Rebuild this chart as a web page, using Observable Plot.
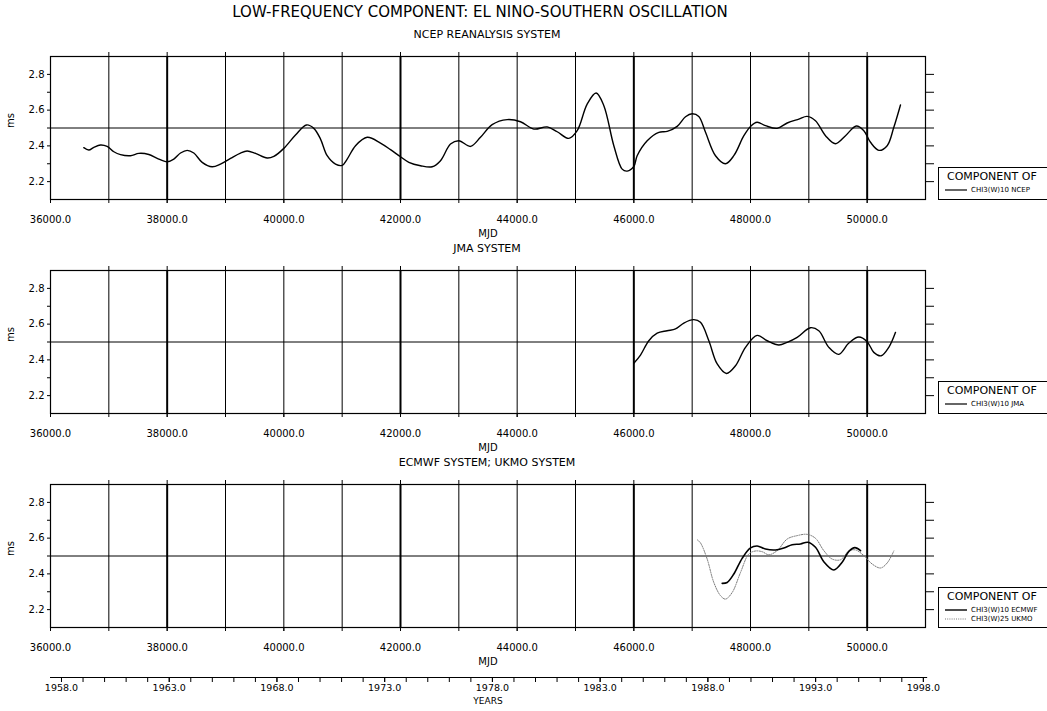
<!DOCTYPE html>
<html>
<head>
<meta charset="utf-8">
<script src="https://cdn.jsdelivr.net/npm/d3@7"></script>
<script src="https://cdn.jsdelivr.net/npm/@observablehq/plot@0.6"></script>
<style>
  html, body { margin: 0; padding: 0; background: #fff; }
  body { position: relative; width: 1047px; height: 711px; overflow: hidden; font-family: "DejaVu Sans", sans-serif; color: #000; }
  .ctext { position: absolute; transform: translate(-50%, -50%); white-space: nowrap; }
  .title { font-size: 15px; }
  .sub { font-size: 11px; }
  .legend { position: absolute; border: 1px solid #000; background: #fff; box-sizing: border-box; }
  .legend .head { position: absolute; left: 8px; top: 2px; font-size: 11px; white-space: nowrap; }
  .legend .row { position: absolute; left: 6px; font-size: 7px; white-space: nowrap; display: flex; align-items: center; }
  .legend .row svg { margin-right: 4px; }
</style>
</head>
<body>
<script>
// ---- data: low-frequency (ENSO band) component, ms ----
const ncepMjd = [36571, 36657, 36743, 36857, 36971, 37086, 37200, 37371, 37514, 37686, 37829, 38000, 38114, 38229, 38343, 38457, 38600, 38771, 38914, 39086, 39257, 39371, 39514, 39714, 39829, 40000, 40200, 40389, 40514, 40629, 40743, 40886, 41000, 41086, 41229, 41429, 41657, 41829, 42000, 42143, 42343, 42543, 42686, 42857, 43000, 43200, 43371, 43571, 43829, 44057, 44286, 44514, 44686, 44886, 45029, 45200, 45354, 45486, 45657, 45800, 45886, 46000, 46057, 46229, 46429, 46571, 46743, 46886, 47000, 47114, 47229, 47400, 47571, 47714, 47886, 48000, 48114, 48257, 48457, 48629, 48829, 48971, 49114, 49286, 49457, 49629, 49814, 49943, 50057, 50200, 50343, 50457, 50571];
const ncepVal = [2.390, 2.377, 2.392, 2.405, 2.397, 2.367, 2.351, 2.345, 2.358, 2.352, 2.330, 2.311, 2.326, 2.360, 2.375, 2.360, 2.308, 2.283, 2.298, 2.330, 2.360, 2.371, 2.358, 2.332, 2.341, 2.386, 2.461, 2.517, 2.498, 2.438, 2.345, 2.298, 2.291, 2.326, 2.401, 2.448, 2.416, 2.379, 2.339, 2.308, 2.289, 2.283, 2.317, 2.410, 2.429, 2.397, 2.448, 2.519, 2.547, 2.535, 2.494, 2.506, 2.479, 2.442, 2.485, 2.634, 2.696, 2.625, 2.401, 2.270, 2.259, 2.285, 2.345, 2.429, 2.476, 2.481, 2.509, 2.563, 2.580, 2.565, 2.476, 2.345, 2.300, 2.345, 2.457, 2.509, 2.532, 2.513, 2.498, 2.528, 2.550, 2.565, 2.541, 2.457, 2.412, 2.457, 2.511, 2.485, 2.420, 2.375, 2.401, 2.504, 2.629];

const jmaMjd = [46000, 46114, 46257, 46400, 46571, 46714, 46857, 47029, 47143, 47286, 47429, 47588, 47743, 47914, 48114, 48286, 48486, 48629, 48800, 49029, 49171, 49343, 49514, 49686, 49857, 50000, 50114, 50240, 50371, 50486];
const jmaVal = [2.381, 2.427, 2.507, 2.549, 2.563, 2.573, 2.606, 2.625, 2.610, 2.507, 2.377, 2.324, 2.367, 2.470, 2.537, 2.507, 2.483, 2.498, 2.526, 2.580, 2.563, 2.470, 2.431, 2.494, 2.528, 2.502, 2.442, 2.423, 2.470, 2.554];

const ecmwfMjd = [47514, 47600, 47714, 47857, 48000, 48114, 48257, 48429, 48571, 48714, 48857, 48983, 49114, 49257, 49429, 49571, 49686, 49789, 49886];
const ecmwfVal = [2.347, 2.352, 2.399, 2.487, 2.545, 2.556, 2.539, 2.534, 2.545, 2.563, 2.567, 2.577, 2.549, 2.468, 2.422, 2.465, 2.526, 2.547, 2.530];

const ukmoMjd = [47090, 47143, 47257, 47371, 47486, 47571, 47686, 47829, 47971, 48086, 48200, 48314, 48457, 48629, 48800, 48971, 49114, 49257, 49400, 49543, 49686, 49800, 49943, 50086, 50229, 50343, 50457];
const ukmoVal = [2.590, 2.573, 2.483, 2.352, 2.278, 2.259, 2.296, 2.408, 2.511, 2.528, 2.524, 2.507, 2.530, 2.595, 2.614, 2.621, 2.599, 2.530, 2.483, 2.479, 2.528, 2.534, 2.502, 2.455, 2.433, 2.461, 2.528];

// ---- axes ----
const mjdLabels = [36000, 38000, 40000, 42000, 44000, 46000, 48000, 50000];
const mjdGrid = [37000, 38000, 39000, 40000, 41000, 42000, 43000, 44000, 45000, 46000, 47000, 48000, 49000, 50000];
const mjdHeavy = [38000, 42000, 46000, 50000];
const yMajor = [2.2, 2.4, 2.6, 2.8];
const yMinor = [2.3, 2.5, 2.7];
const yRight = [2.2, 2.3, 2.4, 2.5, 2.6, 2.7, 2.8];
const yearLabels = [1958, 1963, 1968, 1973, 1978, 1983, 1988, 1993, 1998];
const yearTicks = d3.range(1958, 1999);

const title = "LOW-FREQUENCY COMPONENT: EL NINO-SOUTHERN OSCILLATION";
const panelTitles = ["NCEP REANALYSIS SYSTEM", "JMA SYSTEM", "ECMWF SYSTEM; UKMO SYSTEM"];
const legendHead = "COMPONENT OF";
const legendRows = [
  [{label: "CHI3(W)10 NCEP", dash: null, color: "#000", width: 1.2}],
  [{label: "CHI3(W)10 JMA", dash: null, color: "#000", width: 1.2}],
  [{label: "CHI3(W)10 ECMWF", dash: null, color: "#000", width: 1.4},
   {label: "CHI3(W)25 UKMO", dash: "1,1.2", color: "#777", width: 1}]
];

const toRows = (xs, ys) => xs.map((x, i) => ({mjd: x, v: ys[i]}));
const panelSeries = [
  [{rows: toRows(ncepMjd, ncepVal), stroke: "#000", width: 1.4, dash: null}],
  [{rows: toRows(jmaMjd, jmaVal), stroke: "#000", width: 1.4, dash: null}],
  [{rows: toRows(ukmoMjd, ukmoVal), stroke: "#777", width: 1, dash: "1.2,1.3"},
   {rows: toRows(ecmwfMjd, ecmwfVal), stroke: "#000", width: 1.6, dash: null}]
];

const FRAME_TOPS = [56, 270, 484];
const FRAME_H = 143;
const MT = 10, MB = 44, ML = 50, MR = 122;
const FONT = "DejaVu Sans, sans-serif";

function addText(cls, text, x, y) {
  const d = document.createElement("div");
  d.className = "ctext " + cls;
  d.textContent = text;
  d.style.left = x + "px";
  d.style.top = y + "px";
  document.body.appendChild(d);
}

addText("title", title, 480, 12);

panelSeries.forEach((series, p) => {
  const chart = Plot.plot({
    width: 1047,
    height: MT + FRAME_H + MB,
    marginLeft: ML, marginRight: MR, marginTop: MT, marginBottom: MB,
    style: {fontFamily: FONT, fontSize: "10px", color: "#000", background: "transparent", overflow: "visible"},
    x: {domain: [36000, 51000], axis: null},
    y: {domain: [2.1, 2.9], axis: null},
    marks: [
      Plot.ruleX(mjdGrid, {stroke: "#000", strokeWidth: d => mjdHeavy.includes(d) ? 2 : 1}),
      Plot.ruleY([2.5], {stroke: "#000", strokeWidth: 1}),
      Plot.frame({stroke: "#000", strokeWidth: 1.2}),
      Plot.axisX({anchor: "bottom", ticks: mjdLabels, tickFormat: d => d.toFixed(1), tickSize: 4, tickPadding: 12, label: null}),
      Plot.axisX({anchor: "bottom", ticks: mjdGrid, tickFormat: () => "", tickSize: 4, label: null}),
      Plot.axisX({anchor: "top", ticks: mjdGrid, tickFormat: () => "", tickSize: 5, label: null}),
      Plot.axisY({anchor: "left", ticks: yMajor, tickFormat: d => d.toFixed(1), tickSize: 3, tickPadding: 3, label: null}),
      Plot.axisY({anchor: "left", ticks: yMinor, tickFormat: () => "", tickSize: 3, label: null}),
      Plot.axisY({anchor: "right", ticks: yRight, tickFormat: () => "", tickSize: 8, label: null}),
      Plot.text(["MJD"], {frameAnchor: "bottom", dy: 34, lineAnchor: "middle", fontSize: 10}),
      Plot.text(["ms"], {frameAnchor: "left", dx: -40, rotate: -90, fontSize: 10}),
      ...series.map(s => Plot.line(s.rows, {
        x: "mjd", y: "v", curve: "catmull-rom",
        stroke: s.stroke, strokeWidth: s.width, strokeDasharray: s.dash
      }))
    ]
  });
  chart.style.position = "absolute";
  chart.style.left = "0px";
  chart.style.top = (FRAME_TOPS[p] - MT) + "px";
  document.body.appendChild(chart);

  addText("sub", panelTitles[p], 487, FRAME_TOPS[p] - 22);

  // legend box in the right margin, bottom aligned with the frame
  const rows = legendRows[p];
  const h = rows.length === 1 ? 33 : 41;
  const box = document.createElement("div");
  box.className = "legend";
  box.style.left = "938px";
  box.style.top = (FRAME_TOPS[p] + FRAME_H - h + 1) + "px";
  box.style.width = "120px";
  box.style.height = h + "px";
  const head = document.createElement("div");
  head.className = "head";
  head.textContent = legendHead;
  box.appendChild(head);
  rows.forEach((r, i) => {
    const row = document.createElement("div");
    row.className = "row";
    row.style.top = (18 + i * 9) + "px";
    row.innerHTML = `<svg width="22" height="6"><line x1="0" x2="22" y1="3" y2="3" stroke="${r.color}" stroke-width="${r.width}" ${r.dash ? `stroke-dasharray="${r.dash}"` : ""}/></svg>`;
    const span = document.createElement("span");
    span.textContent = r.label;
    row.appendChild(span);
    box.appendChild(row);
  });
  document.body.appendChild(box);
});

// calendar-year axis under the panels
const yearsAxis = Plot.plot({
  width: 1047,
  height: 44,
  marginLeft: ML, marginRight: MR, marginTop: 4, marginBottom: 39,
  style: {fontFamily: FONT, fontSize: "9.5px", color: "#000", background: "transparent", overflow: "visible"},
  x: {domain: [1957.49, 1998.1], axis: null},
  y: {domain: [0, 1], axis: null},
  marks: [
    Plot.ruleY([0], {x1: 1957.49, x2: 1998.2, stroke: "#000", strokeWidth: 1.2}),
    Plot.axisX({anchor: "bottom", ticks: yearTicks, tickFormat: () => "", tickSize: 5, label: null}),
    Plot.axisX({anchor: "bottom", ticks: yearLabels, tickFormat: d => d.toFixed(1), tickSize: 5, tickPadding: 2, label: null}),
    Plot.text(["YEARS"], {frameAnchor: "bottom", dy: 24, lineAnchor: "middle", fontSize: 9})
  ]
});
yearsAxis.style.position = "absolute";
yearsAxis.style.left = "0px";
yearsAxis.style.top = (677 - 4 - 1) + "px";
document.body.appendChild(yearsAxis);
</script>
</body>
</html>
